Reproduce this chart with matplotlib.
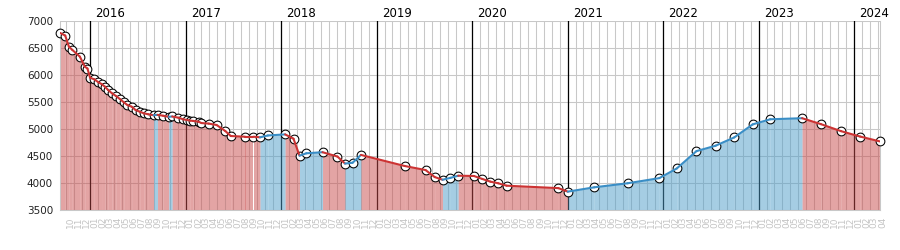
import matplotlib
matplotlib.use("Agg")
import matplotlib.pyplot as plt
import numpy as np
import pandas as pd

dates = ['2015-09-08', '2015-09-28', '2015-10-12', '2015-10-25', '2015-11-23',
         '2015-12-12', '2015-12-22', '2016-01-01', '2016-01-17', '2016-02-02',
         '2016-02-14', '2016-02-27', '2016-03-10', '2016-03-25', '2016-04-09',
         '2016-04-24', '2016-05-09', '2016-05-23', '2016-06-08', '2016-06-23',
         '2016-07-09', '2016-07-25', '2016-08-11', '2016-08-31', '2016-09-15',
         '2016-10-06', '2016-10-28', '2016-11-10', '2016-12-04', '2016-12-22',
         '2017-01-07', '2017-01-18', '2017-01-29', '2017-02-19', '2017-03-02',
         '2017-03-30', '2017-04-29', '2017-06-01', '2017-06-22', '2017-08-16',
         '2017-09-17', '2017-10-12', '2017-11-11', '2018-01-16', '2018-02-17',
         '2018-03-12', '2018-04-07', '2018-06-08', '2018-08-04', '2018-09-02',
         '2018-10-01', '2018-11-02', '2019-04-18', '2019-07-07', '2019-08-11',
         '2019-09-10', '2019-10-10', '2019-11-09', '2020-01-08', '2020-02-09',
         '2020-03-11', '2020-04-10', '2020-05-12', '2020-11-26', '2021-01-01',
         '2021-04-12', '2021-08-18', '2021-12-17', '2022-02-22', '2022-05-08',
         '2022-07-20', '2022-09-30', '2022-12-09', '2023-02-14', '2023-06-16',
         '2023-08-27', '2023-11-12', '2024-01-24', '2024-04-09']
values = [6780, 6730, 6525, 6465, 6340,
          6155, 6120, 5950, 5920, 5865,
          5833, 5783, 5722, 5660, 5611,
          5555, 5494, 5444, 5413, 5352,
          5320, 5290, 5272, 5255, 5262,
          5246, 5226, 5232, 5209, 5180,
          5165, 5155, 5150, 5135, 5110,
          5100, 5074, 4963, 4870, 4857,
          4857, 4846, 4880, 4900, 4820,
          4506, 4550, 4570, 4490, 4360,
          4375, 4520, 4315, 4240, 4110,
          4060, 4095, 4135, 4130, 4075,
          4025, 3995, 3950, 3905, 3840,
          3920, 3995, 4090, 4270, 4590,
          4690, 4845, 5085, 5180, 5200,
          5090, 4960, 4860, 4770]

months = pd.date_range('2015-10-01', '2024-04-01', freq='MS')
years = [2016, 2017, 2018, 2019, 2020, 2021, 2022, 2023, 2024]

RED_FILL = '#c94a4a'
BLUE_FILL = '#4d9dc9'
RED_LINE = '#cc3333'
BLUE_LINE = '#3a8ec6'
GRID = '#c8c8c8'

plt.rcParams["font.family"] = "DejaVu Sans"

x = pd.to_datetime(dates)
y = np.array(values)

fig = plt.figure(figsize=(9, 2.5), dpi=100)
ax = fig.add_axes([60/900, 40/250, 820/900, 189/250])

# grid: months gray, years black
for m in months:
    ax.axvline(m, color=GRID, lw=0.75, zorder=0)
for yr in years:
    ax.axvline(pd.Timestamp(f'{yr}-01-01'), color='black', lw=0.9, zorder=0.5)
for v in range(3500, 7001, 500):
    ax.axhline(v, color=GRID, lw=0.75, zorder=0)

# fill + line per segment, red going down, blue going up
for i in range(len(x) - 1):
    up = y[i + 1] > y[i]
    fc = BLUE_FILL if up else RED_FILL
    lc = BLUE_LINE if up else RED_LINE
    ax.fill_between(x[i:i + 2], y[i:i + 2], 3500, color=fc, alpha=0.5,
                    lw=0, antialiased=False, zorder=1)
    ax.plot(x[i:i + 2], y[i:i + 2], color=lc, lw=1.5,
            solid_capstyle='round', zorder=4)

ax.plot(x, y, ls='none', marker='o', ms=6.3, mfc='white', mec='black',
        mew=0.75, zorder=3, clip_on=False)

ax.set_xlim(x[0], x[-1])
ax.set_ylim(3500, 7000)
ax.set_yticks(range(3500, 7001, 500))
ax.tick_params(axis='y', length=0, pad=5, labelsize=7.5, labelcolor='#222222')

ax.set_xticks(months)
ax.set_xticklabels([f'{m.month:02d}' for m in months])
ax.tick_params(axis='x', length=0, pad=5, labelsize=6.5, labelcolor='#c4c4c4')
plt.setp(ax.get_xticklabels(), rotation=90, ha='left')

for s in ax.spines.values():
    s.set_color(GRID)
    s.set_linewidth(0.75)
ax.spines['top'].set_visible(False)

for yr in years:
    ax.annotate(str(yr), xy=(pd.Timestamp(f'{yr}-01-01'), 1),
                xycoords=('data', 'axes fraction'), xytext=(3.6, 3),
                textcoords='offset points', ha='left', va='baseline',
                fontsize=8.5, color='black', annotation_clip=False)

fig.savefig('out.png', dpi=100)
